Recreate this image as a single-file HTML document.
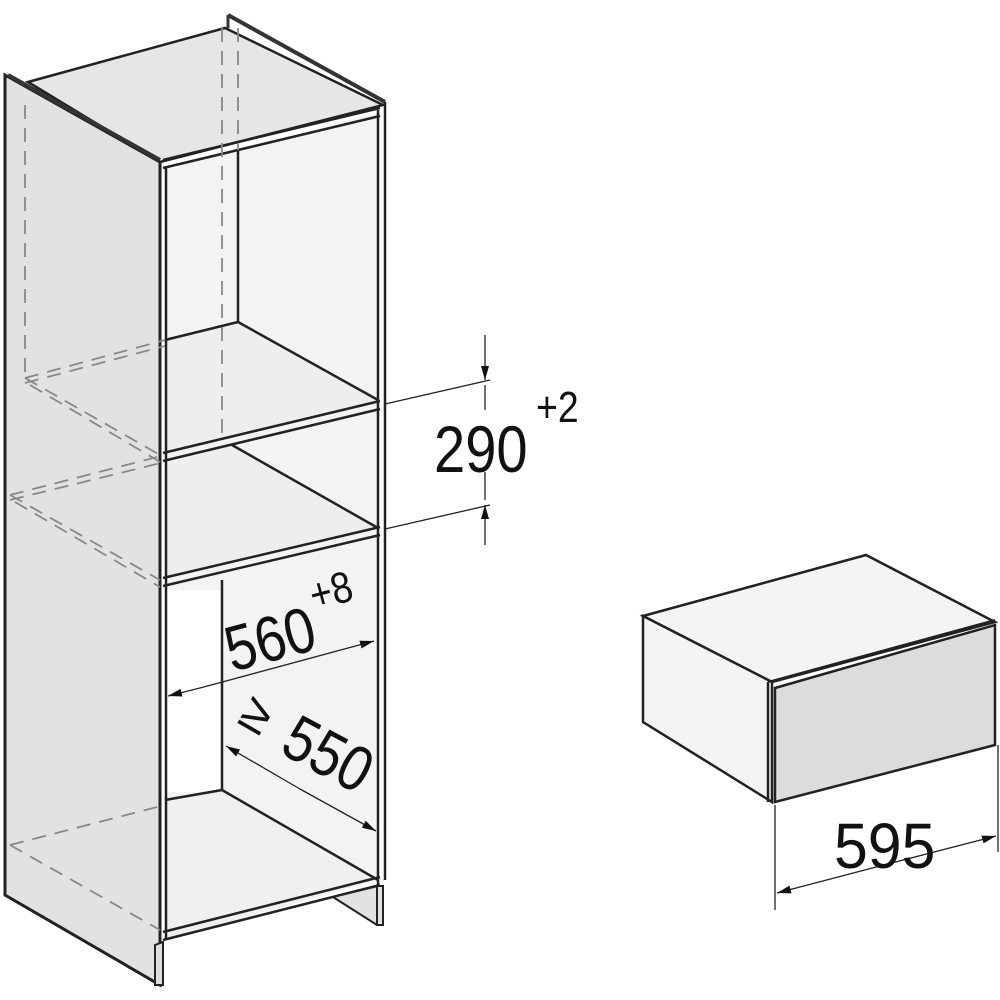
<!DOCTYPE html>
<html><head><meta charset="utf-8"><style>html,body{margin:0;padding:0;background:#fff}svg{display:block}</style></head>
<body>
<svg width="1000" height="1000" viewBox="0 0 1000 1000" xmlns="http://www.w3.org/2000/svg" font-family="Liberation Sans, sans-serif">
<defs>
<marker id="ah" markerWidth="14" markerHeight="8" refX="14" refY="4" orient="auto" markerUnits="userSpaceOnUse"><path d="M0,0 L14,4 L0,8 z" fill="#111"/></marker>
</defs>
<polygon points="5,75 160,162 160,985 5,895" fill="#e2e2e2" stroke="#222" stroke-width="3"/>
<polygon points="28,82 225,28 383,105 160,162" fill="#e6e6e6" stroke="#222" stroke-width="2.5"/>
<line x1="228" y1="15" x2="385" y2="102" stroke="#333" stroke-width="4"/>
<line x1="228" y1="15" x2="228" y2="28" stroke="#333" stroke-width="3"/>
<line x1="8" y1="75" x2="160" y2="160" stroke="#333" stroke-width="4"/>
<polygon points="165,170 378,112 378,880 165,940" fill="#f3f3f3"/>
<polygon points="165,340 238,322 378,400 165,455" fill="#eeeeee"/>
<polygon points="165,465 232,445 378,528 165,578" fill="#eeeeee"/>
<rect x="165" y="590" width="57" height="202" fill="#fff"/>
<polygon points="165,800 222,790 378,880 165,940" fill="#f0f0f0"/>
<g stroke="#222" stroke-width="2.5" fill="none">
<line x1="238" y1="150" x2="238" y2="322"/>
<line x1="238" y1="322" x2="378" y2="400"/>
<line x1="238" y1="322" x2="165" y2="340"/>
<line x1="232" y1="445" x2="378" y2="528"/>
<line x1="222" y1="580" x2="222" y2="790"/>
<line x1="222" y1="790" x2="165" y2="800"/>
<line x1="222" y1="790" x2="378" y2="880"/>
<line x1="163" y1="160" x2="380" y2="108"/>
<line x1="163" y1="168" x2="380" y2="116"/>
<line x1="163" y1="453" x2="380" y2="401"/>
<line x1="163" y1="461" x2="380" y2="409"/>
<line x1="163" y1="578" x2="380" y2="527"/>
<line x1="163" y1="586" x2="380" y2="535"/>
<line x1="163" y1="932" x2="380" y2="877"/>
<line x1="163" y1="940" x2="380" y2="885"/>
</g>
<g stroke="#222" stroke-width="2.5">
<line x1="160" y1="162" x2="160" y2="985"/>
<line x1="166" y1="168" x2="166" y2="940"/>
<line x1="378" y1="110" x2="378" y2="885"/>
<line x1="385" y1="102" x2="385" y2="880"/>
</g>
<polygon points="333,897 378,886 383,886 383,925 377,925" fill="#e2e2e2" stroke="#222" stroke-width="2"/>
<line x1="377" y1="886" x2="377" y2="925" stroke="#222" stroke-width="2"/>
<polygon points="155,945 163,942 163,985 155,985" fill="#ddd" stroke="#222" stroke-width="2"/>
<g stroke="#888" stroke-width="1.8" fill="none" stroke-dasharray="14,9">
<line x1="25" y1="105" x2="25" y2="378"/>
<line x1="222" y1="28" x2="222" y2="440"/>
<line x1="238" y1="28" x2="238" y2="150"/>
<line x1="25" y1="378" x2="165" y2="340"/>
<line x1="25" y1="383" x2="165" y2="346"/>
<line x1="25" y1="378" x2="160" y2="455"/>
<line x1="30" y1="385" x2="160" y2="462"/>
<line x1="10" y1="495" x2="165" y2="455"/>
<line x1="10" y1="500" x2="165" y2="462"/>
<line x1="10" y1="495" x2="160" y2="580"/>
<line x1="15" y1="502" x2="160" y2="587"/>
<line x1="10" y1="845" x2="165" y2="805"/>
<line x1="10" y1="845" x2="160" y2="930"/>
</g>
<g stroke="#222" stroke-width="1.3" fill="none">
<line x1="385" y1="404" x2="490" y2="380"/>
<line x1="385" y1="529" x2="490" y2="505"/>
<line x1="485" y1="335" x2="485" y2="380" marker-end="url(#ah)"/>
<line x1="485" y1="545" x2="485" y2="505" marker-end="url(#ah)"/>
<line x1="485" y1="385" x2="485" y2="410"/>
<line x1="485" y1="472" x2="485" y2="500"/>
</g>
<g transform="translate(434,472) scale(0.85,1)"><text x="0" y="0" font-size="66" fill="#111">290</text></g>
<g transform="translate(536,422) scale(0.85,1)"><text x="0" y="0" font-size="44" fill="#111">+2</text></g>
<line x1="200" y1="688" x2="168" y2="696" stroke="#222" stroke-width="1.3" marker-end="url(#ah)"/>
<line x1="200" y1="688" x2="374" y2="641" stroke="#222" stroke-width="1.3" marker-end="url(#ah)"/>
<g transform="translate(232,672) rotate(-15) scale(0.85,1)"><text x="0" y="0" font-size="64" fill="#111">560</text><text x="112" y="-38" font-size="44" fill="#111">+8</text></g>
<line x1="300" y1="789" x2="226" y2="746" stroke="#222" stroke-width="1.3" marker-end="url(#ah)"/>
<line x1="300" y1="789" x2="376" y2="831" stroke="#222" stroke-width="1.3" marker-end="url(#ah)"/>
<g transform="translate(278,752) rotate(28) scale(0.85,1)"><text x="0" y="0" font-size="64" fill="#111">550</text></g>
<g transform="translate(236,722) rotate(30)"><text x="0" y="0" font-size="52" fill="#111">≥</text></g>
<polygon points="643,616 866,555 995,622 772,682" fill="#f4f4f4" stroke="#222" stroke-width="2.5"/>
<polygon points="643,616 772,682 772,802 643,722" fill="#f4f4f4" stroke="#222" stroke-width="2.5"/>
<polygon points="775,688 995,625 995,745 775,802" fill="#dcdcdc" stroke="#222" stroke-width="2.5"/>
<line x1="768" y1="682" x2="995" y2="620" stroke="#222" stroke-width="2"/>
<line x1="768" y1="682" x2="768" y2="802" stroke="#222" stroke-width="2.5"/>
<g stroke="#222" stroke-width="1.3">
<line x1="775" y1="805" x2="775" y2="910"/>
<line x1="998" y1="745" x2="998" y2="852"/>
<line x1="880" y1="866" x2="777" y2="893" marker-end="url(#ah)"/>
<line x1="880" y1="866" x2="996" y2="836" marker-end="url(#ah)"/>
</g>
<g transform="translate(834,868) scale(0.95,1)"><text x="0" y="0" font-size="64" fill="#111">595</text></g>
</svg>
</body></html>
